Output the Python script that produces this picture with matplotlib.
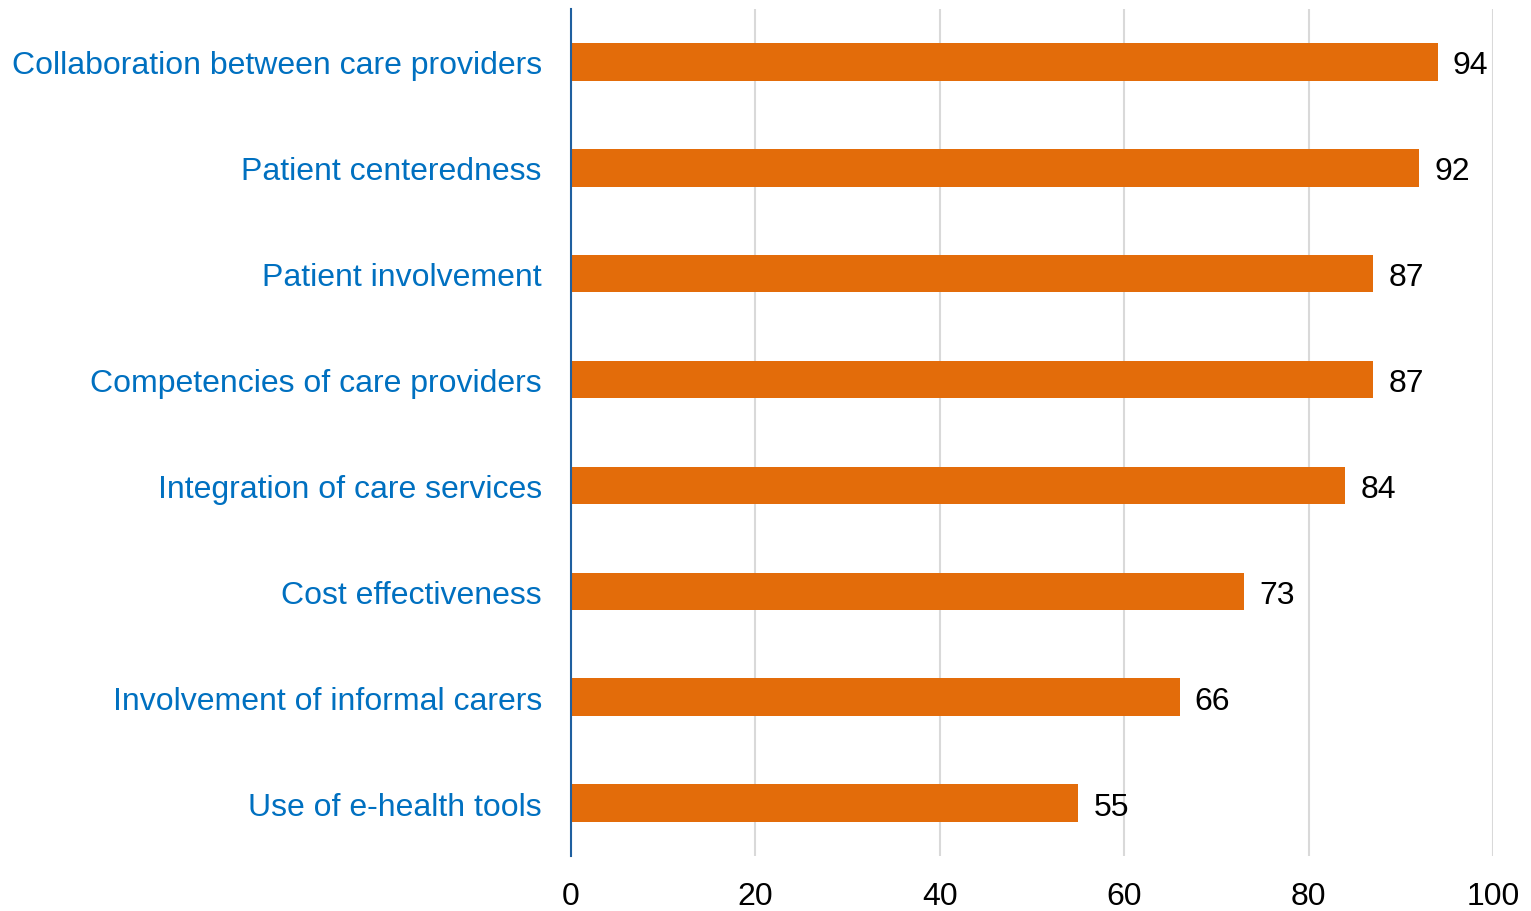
import matplotlib
matplotlib.use("Agg")
import matplotlib.pyplot as plt

categories = ["Collaboration between care providers", "Patient centeredness",
              "Patient involvement", "Competencies of care providers",
              "Integration of care services", "Cost effectiveness",
              "Involvement of informal carers", "Use of e-health tools"]
values = [94, 92, 87, 87, 84, 73, 66, 55]
xticks = [0, 20, 40, 60, 80, 100]

plt.rcParams['font.family'] = ['Liberation Sans', 'DejaVu Sans']

fig = plt.figure(figsize=(15.31, 9.12), dpi=100)
ax = fig.add_axes([571/1531, 55/912, 922/1531, 847/912])

ypos = list(range(len(categories)))
ax.barh(ypos, values, height=0.355, color='#e36c0a', zorder=3)
for y, v in zip(ypos, values):
    ax.annotate(str(v), (v, y), xytext=(11, -2.5), textcoords='offset points',
                ha='left', va='center', fontsize=23, color='black')

ax.set_xlim(0, 100)
ax.set_ylim(len(categories) - 0.5, -0.5)
ax.set_xticks(xticks)
ax.set_xticklabels([str(t) for t in xticks], fontsize=23)
ax.set_yticks(ypos)
ax.set_yticklabels(categories, fontsize=23, color='#0070c0')
ax.tick_params(axis='both', length=0)
ax.tick_params(axis='x', pad=18)
ax.tick_params(axis='y', pad=21)
ax.grid(axis='x', color='#d9d9d9', linewidth=1.5, zorder=0)
for s in ['top', 'right', 'bottom']:
    ax.spines[s].set_visible(False)
ax.spines['left'].set_color('#1f5f9f')
ax.spines['left'].set_linewidth(1.5)
ax.spines['left'].set_zorder(4)

fig.savefig("out.png", dpi=100)
